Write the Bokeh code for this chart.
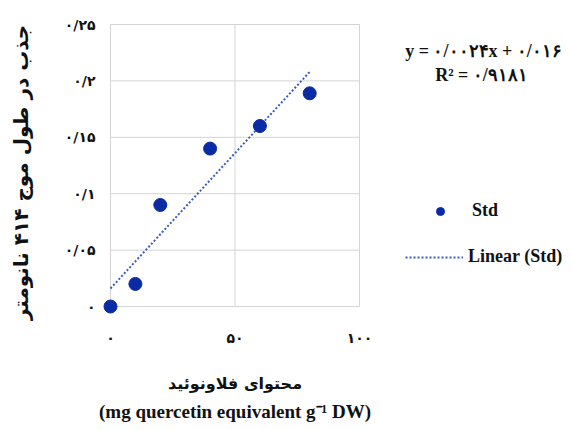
import math
from bokeh.plotting import figure
from bokeh.models import Range1d, Label, Legend, LegendItem
from bokeh.embed import file_html
from bokeh.resources import INLINE
from bokeh.core.properties import value

# ---- data ----
flavonoid = [0, 10, 20, 40, 60, 80]
absorbance = [0.000, 0.020, 0.090, 0.140, 0.160, 0.189]
trend_slope = 0.0024
trend_intercept = 0.016
trend_x = [0, 80]
y_ticks = [0, 0.05, 0.10, 0.15, 0.20, 0.25]
y_tick_labels = ["۰", "۰/۰۵", "۰/۱", "۰/۱۵", "۰/۲", "۰/۲۵"]
x_ticks = [0, 50, 100]
x_tick_labels = ["۰", "۵۰", "۱۰۰"]
y_label = "جذب در طول موج ۴۱۴ نانومتر"
x_label_fa = "محتوای فلاونوئید"
x_label_en = "(mg quercetin equivalent g\u207b\u00b9 DW)"
equation = "y = ۰/۰۰۲۴x + ۰/۰۱۶"
r_squared = "R\u00b2 = ۰/۹۱۸۱"

# ---- layout geometry (pixels) ----
W, H = 573, 430
X0PX, XPPU = 110.0, 249.0 / 100.0     # pixel of x=0, pixels per x unit
Y0PX, YPPU = 306.0, 282.0 / 0.25      # pixel of y=0, pixels per y unit

def px_x(px):
    return (px - X0PX) / XPPU

def px_y(py):
    return (Y0PX - py) / YPPU

p = figure(width=W, height=H, output_backend="svg", toolbar_location=None,
           x_range=Range1d(px_x(0), px_x(W)), y_range=Range1d(px_y(H), px_y(0)),
           x_axis_location=None, y_axis_location=None,
           min_border=0, min_border_left=0, min_border_right=0,
           min_border_top=0, min_border_bottom=0)
p.outline_line_color = None
p.grid.visible = False
p.background_fill_color = "white"

# grid lines (including axis lines at zero)
grid_col = "#d4d4d4"
p.segment(x0=[x_ticks[0]] * len(y_ticks), y0=y_ticks, x1=[x_ticks[-1]] * len(y_ticks),
          y1=y_ticks, line_color=grid_col, line_width=1)
p.segment(x0=x_ticks, y0=[y_ticks[0]] * len(x_ticks), x1=x_ticks,
          y1=[y_ticks[-1]] * len(x_ticks), line_color=grid_col, line_width=1)

trend_y = [trend_slope * x + trend_intercept for x in trend_x]
trend = p.line(trend_x, trend_y, line_color="#3a5cc4", line_width=2, line_dash="2 2")
pts = p.scatter(flavonoid, absorbance, size=13, fill_color="#0b2aa6", line_color="#0b2aa6")

fa_font = value("DejaVu Sans")
ink = "#111111"

# tick labels
p.text(x=[px_x(95)] * len(y_ticks), y=y_ticks, text=y_tick_labels, text_align="right",
       text_baseline="middle", text_font=fa_font, text_font_style="bold",
       text_font_size="14px", text_color=ink)
p.text(x=x_ticks, y=[px_y(337)] * len(x_ticks), text=x_tick_labels, text_align="center",
       text_baseline="middle", text_font=fa_font, text_font_style="bold",
       text_font_size="14px", text_color=ink)

# axis titles
p.text(x=[px_x(20)], y=[px_y(172)], text=[y_label], angle=math.pi / 2,
       text_align="center", text_baseline="middle", text_font=fa_font,
       text_font_style="bold", text_font_size="20px", text_color=ink)
p.add_layout(Label(x=x_ticks[1], y=px_y(383), text=x_label_fa, text_align="center",
                   text_baseline="middle", text_font="DejaVu Sans", text_font_style="bold",
                   text_font_size="16px", text_color=ink))
p.add_layout(Label(x=x_ticks[1], y=px_y(411), text=x_label_en, text_align="center",
                   text_baseline="middle", text_font="Liberation Serif", text_font_style="bold",
                   text_font_size="19px", text_color=ink))

# equation
p.add_layout(Label(x=px_x(483), y=px_y(50), text=equation, text_align="center",
                   text_baseline="middle", text_font="Liberation Serif", text_font_style="bold",
                   text_font_size="18px", text_color=ink))
p.add_layout(Label(x=px_x(481), y=px_y(74), text=r_squared, text_align="center",
                   text_baseline="middle", text_font="Liberation Serif", text_font_style="bold",
                   text_font_size="18px", text_color=ink))

# legends
common = dict(padding=0, margin=0, border_line_color=None, background_fill_alpha=0,
              label_text_font="Liberation Serif", label_text_font_style="bold",
              label_text_font_size="18px", label_text_color=ink,
              glyph_height=20, label_height=20, spacing=0)
leg1 = Legend(items=[LegendItem(label="Std", renderers=[pts])], location=(430, H - 221),
              glyph_width=20, label_standoff=22, **common)
leg2 = Legend(items=[LegendItem(label="Linear (Std)", renderers=[trend])], location=(405, H - 267),
              glyph_width=58, label_standoff=5, **common)
p.add_layout(leg1)
p.add_layout(leg2)

open("out.html", "w").write(file_html(p, INLINE))
